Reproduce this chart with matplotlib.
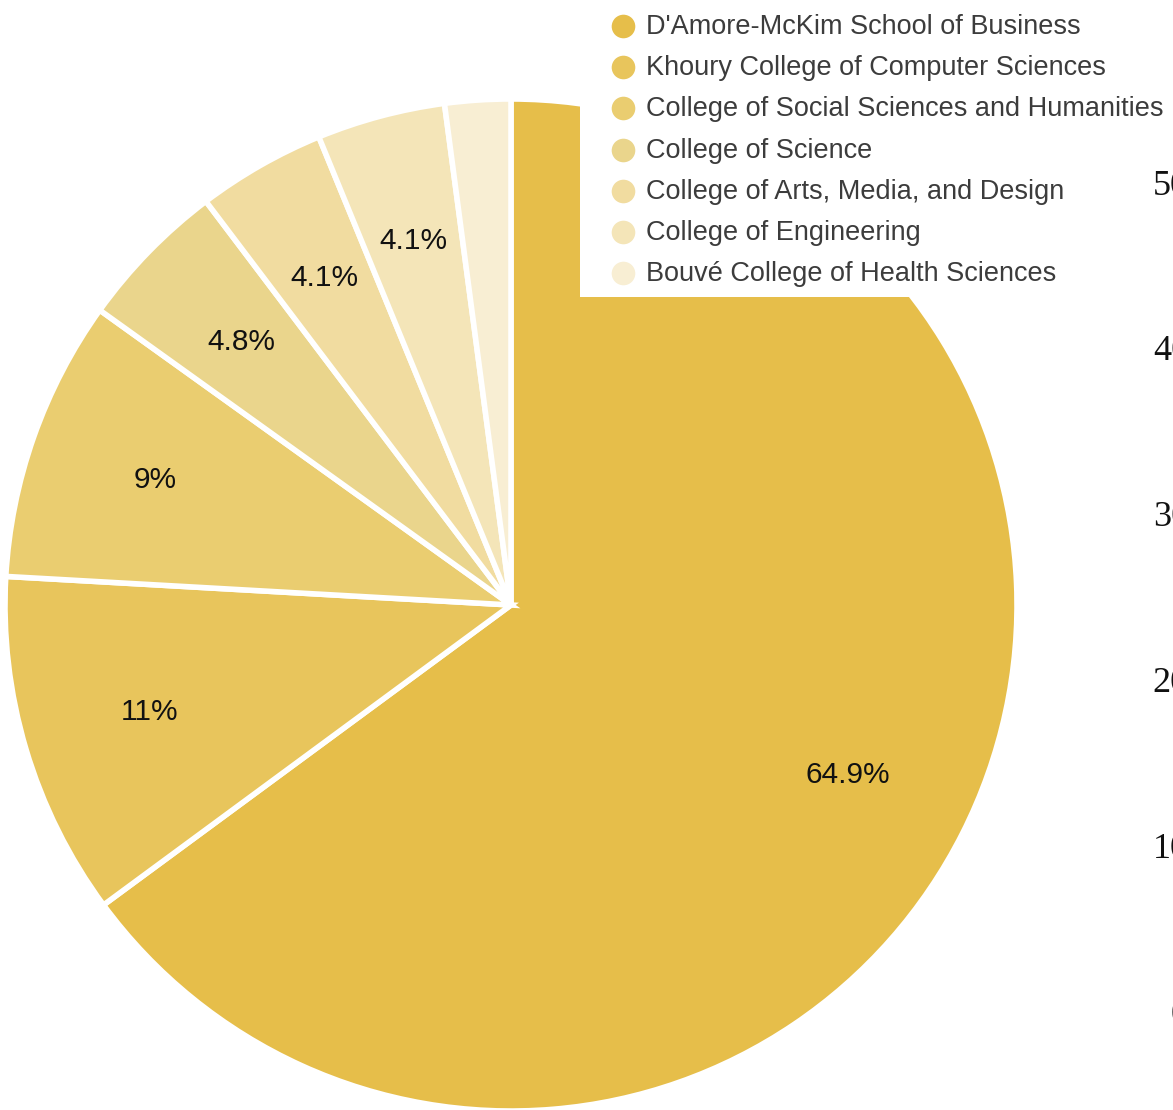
import matplotlib.pyplot as plt
from matplotlib.lines import Line2D
from matplotlib.patches import Rectangle

colleges = ["D'Amore-McKim School of Business",
            'Khoury College of Computer Sciences',
            'College of Social Sciences and Humanities',
            'College of Science',
            'College of Arts, Media, and Design',
            'College of Engineering',
            'Bouvé College of Health Sciences']
shares = [64.9, 11, 9, 4.8, 4.1, 4.1, 2.1]
pct_labels = ['64.9%', '11%', '9%', '4.8%', '4.1%', '4.1%', '']
colors = ['#E6BE4A', '#E8C55C', '#EACD70', '#EAD58C', '#F1DCA0', '#F4E5B8', '#F8EED3']
# cut-off tick labels of a neighbouring chart on the right edge
side_ticks = ['50', '40', '30', '20', '10', '0']

W, H = 1173, 1110
fig = plt.figure(figsize=(W / 100, H / 100), dpi=100)
plt.rcParams['font.family'] = ['Liberation Sans', 'DejaVu Sans']

cx, cy, r = 511, 605, 506
ax = fig.add_axes([(cx - r) / W, (H - cy - r) / H, 2 * r / W, 2 * r / H])
wedges, texts, autotexts = ax.pie(shares, colors=colors, startangle=90, counterclock=False,
                                  radius=1, pctdistance=0.745, autopct=lambda p: '',
                                  wedgeprops=dict(edgecolor='white', linewidth=4))
for t, s in zip(autotexts, pct_labels):
    t.set_text(s)
    t.set_fontsize(21.5)
    t.set_color('#111111')
ax.set_xlim(-1, 1)
ax.set_ylim(-1, 1)
ax.set_aspect('auto')
ax.axis('off')

# white legend box covering the top right of the pie
fig.patches.append(Rectangle((580 / W, (H - 297) / H), (W - 580) / W, 297 / H,
                             transform=fig.transFigure, facecolor='white',
                             edgecolor='none', zorder=5))

y0, dy = 26, 41.2
for i, (name, c) in enumerate(zip(colleges, colors)):
    y = 1 - (y0 + i * dy) / H
    fig.add_artist(Line2D([623 / W], [y], marker='o', markersize=17, color=c,
                          markeredgecolor='none', transform=fig.transFigure, zorder=6))
    fig.text(646 / W, 1 - (y0 + 1 + i * dy) / H, name, fontsize=19.5, color='#3c3c3c',
             va='center', ha='left', zorder=7)

for i, s in enumerate(side_ticks):
    y = 1 - (186 + i * 166) / H
    fig.text(1189 / W, y, s, fontsize=26, family='Liberation Serif', color='#111111',
             ha='right', va='center', zorder=8)

fig.savefig('out.png', dpi=100)
